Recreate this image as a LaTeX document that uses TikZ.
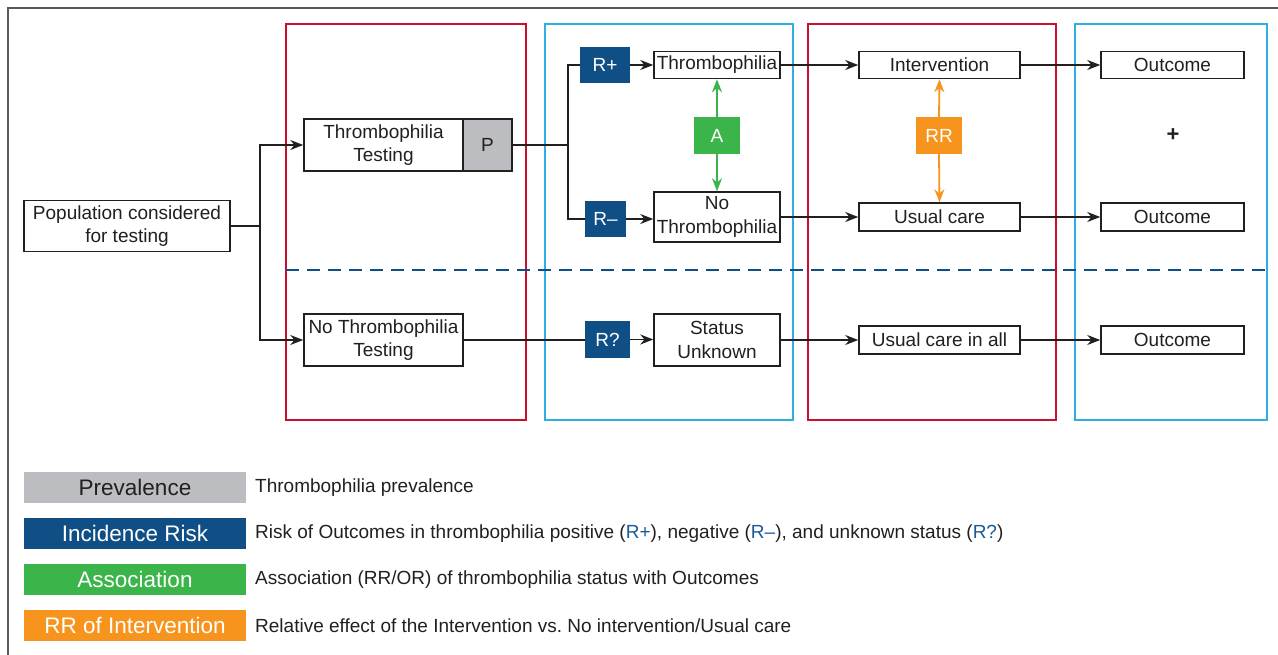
\documentclass[tikz,border=0pt]{standalone}
\usepackage{fontspec}
\setmainfont{Liberation Sans}
\usetikzlibrary{arrows.meta}

\definecolor{ink}{HTML}{231F20}
\definecolor{framegray}{HTML}{5A5A5A}
\definecolor{panelred}{HTML}{C8102E}
\definecolor{panelblue}{HTML}{2EAEE2}
\definecolor{navy}{HTML}{0F4F85}
\definecolor{rtext}{HTML}{1A5A96}
\definecolor{assocgreen}{HTML}{3BB54A}
\definecolor{rrorange}{HTML}{F7941D}
\definecolor{prevgray}{HTML}{BCBDC1}

\newcommand{\bodyfont}{\fontsize{19}{23.5}\selectfont}
\newcommand{\keyfont}{\fontsize{22.5}{26}\selectfont}

\tikzset{
  box/.style={draw=ink, line width=1.5pt, fill=white, inner sep=0pt, align=center,
    text=ink, font=\bodyfont},
  tag/.style={fill=navy, text=white, inner sep=0pt, font=\bodyfont,
    minimum height=36pt},
  panel/.style={line width=2pt},
  link/.style={ink, line width=1.5pt},
  arr/.style={link, -{Stealth[length=13pt,width=10pt]}},
  both/.style={line width=1.8pt, -{Stealth[length=13pt,width=10pt]}},
  key/.style={inner sep=0pt, minimum width=222pt, minimum height=31pt, font=\keyfont},
  keytext/.style={anchor=west, inner sep=0pt, text=ink, font=\bodyfont}
}

\begin{document}
\begin{tikzpicture}[x=1pt,y=-1pt]
\useasboundingbox (0,0) rectangle (1278,655);

% outer frame
\draw[framegray, line width=2pt] (8,655) -- (8,8) -- (1278,8);

% panels
\draw[panel, panelred] (286,24) rectangle (526,420);
\draw[panel, panelblue] (545,24) rectangle (793,420);
\draw[panel, panelred] (808,24) rectangle (1056,420);
\draw[panel, panelblue] (1075,24) rectangle (1267,420);
\draw[navy, line width=2pt, dash pattern=on 13pt off 8pt] (286,270) -- (1267,270);

% nodes
\node[box, minimum width=206pt, minimum height=51pt] (pop) at (127,226)
  {Population considered\\for testing};
\node[box, minimum width=159pt, minimum height=52pt] (tt) at (383.5,145)
  {Thrombophilia\\Testing};
\node[box, fill=prevgray, minimum width=49pt, minimum height=52pt] (prev) at (487.5,145) {P};
\node[box, minimum width=159pt, minimum height=52pt] (ntt) at (383.5,340)
  {No Thrombophilia\\Testing};

\node[tag, minimum width=50pt] (rplus) at (605,65) {R+};
\node[tag, minimum width=41pt] (rminus) at (605.5,219) {R\textendash};
\node[tag, minimum width=45pt, minimum height=37pt] (runk) at (607.5,339.5) {R?};

\node[box, minimum width=126pt, minimum height=27pt] (thr) at (717,65) {Thrombophilia};
\node[box, minimum width=126pt, minimum height=50pt] (nothr) at (717,217)
  {No\\Thrombophilia};
\node[box, minimum width=126pt, minimum height=52pt] (unk) at (717,340)
  {Status\\Unknown};
\node[tag, fill=assocgreen, minimum width=46pt, minimum height=37pt] (assoc) at (717,135.5) {A};

\node[box, minimum width=161pt, minimum height=27pt] (interv) at (939.5,65) {Intervention};
\node[box, minimum width=161pt, minimum height=28pt] (usual) at (939.5,217) {Usual care};
\node[box, minimum width=161pt, minimum height=28pt] (usall) at (939.5,340) {Usual care in all};
\node[tag, fill=rrorange, minimum width=46pt, minimum height=37pt] (rr) at (939,135.5) {RR};

\node[box, minimum width=143pt, minimum height=27pt] (out1) at (1172.5,65) {Outcome};
\node[box, minimum width=143pt, minimum height=28pt] (out2) at (1172.5,217) {Outcome};
\node[box, minimum width=143pt, minimum height=28pt] (out3) at (1172.5,340) {Outcome};
\node[text=ink, font=\fontsize{22}{24}\selectfont\bfseries] (plus) at (1173,135) {+};

% connectors
\coordinate (split1) at (260,226);
\coordinate (split2) at (568,145);
\draw[link] (pop.east) -- (split1);
\draw[arr] (split1) |- (tt.west);
\draw[arr] (split1) |- (ntt.west);
\draw[link] (prev.east) -- (split2);
\draw[link] (split2) |- (rplus.west);
\draw[link] (split2) |- (rminus.west);
\draw[arr] (rplus.east) -- (thr.west);
\draw[arr] (rminus.east) -- (rminus.east -| nothr.west);
\draw[link] (ntt.east) -- (ntt.east -| runk.west);
\draw[arr] (runk.east) -- (runk.east -| unk.west);

\draw[arr] (thr.east) -- (interv.west);
\draw[arr] (nothr.east) -- (usual.west);
\draw[arr] (unk.east) -- (usall.west);
\draw[arr] (interv.east) -- (out1.west);
\draw[arr] (usual.east) -- (out2.west);
\draw[arr] (usall.east) -- (out3.west);

\draw[both, assocgreen] (assoc.north) -- (thr.south);
\draw[both, assocgreen] (assoc.south) -- (nothr.north);
\draw[both, rrorange] (rr.north) -- (interv.south);
\draw[both, rrorange] (rr.south) -- (usual.north);

% legend
\node[key, fill=prevgray, text=ink] (kprev) at (135,487.5) {Prevalence};
\node[key, fill=navy, text=white] (kinc) at (135,533.5) {Incidence Risk};
\node[key, fill=assocgreen, text=white] (kassoc) at (135,579.5) {Association};
\node[key, fill=rrorange, text=white] (krr) at (135,625.5) {RR of Intervention};

\node[keytext] (tprev) at (255,487.5) {Thrombophilia prevalence};
\node[keytext] (tinc) at (255,533.5) {Risk of Outcomes in thrombophilia positive
  ({\color{rtext}R+}), negative ({\color{rtext}R\textendash}), and unknown status ({\color{rtext}R?})};
\node[keytext] (tassoc) at (255,579.5) {Association (RR/OR) of thrombophilia status with Outcomes};
\node[keytext] (trr) at (255,625.5) {Relative effect of the Intervention vs.\ No intervention/Usual care};

\end{tikzpicture}
\end{document}
